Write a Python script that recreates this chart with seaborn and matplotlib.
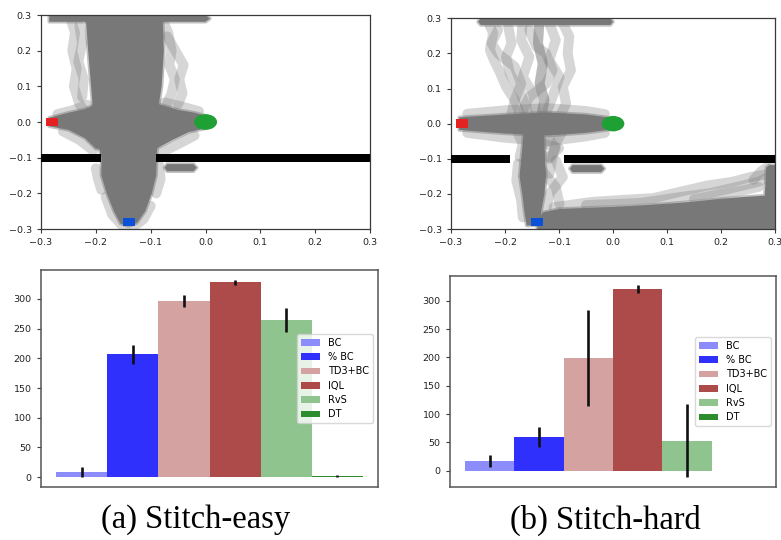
import numpy as np
import pandas as pd
import matplotlib
matplotlib.use("Agg")
import matplotlib.pyplot as plt
import seaborn as sns
from matplotlib.patches import Rectangle, Ellipse

# ---------------------------------------------------------------- bar data
METHODS = ["BC", "% BC", "TD3+BC", "IQL", "RvS", "DT"]
BAR_COLORS = ["#8c8cfb", "#3030fc", "#d4a2a1", "#ad4b4b", "#8fc48f", "#2d8c2d"]

EASY_SCORE = [9, 207, 296, 328, 264, 2]
EASY_ERR = [8, 16, 10, 4, 20, 2]
HARD_SCORE = [17, 60, 199, 320, 53, 0]
HARD_ERR = [10, 18, 84, 7, 64, 0]

CAPTIONS = ["(a) Stitch-easy", "(b) Stitch-hard"]

# ---------------------------------------------------------------- maze layout
MAZE_TICKS = [-0.3, -0.2, -0.1, 0.0, 0.1, 0.2, 0.3]
WALL_Y = -0.1
WALL_SEGMENTS = [(-0.3, -0.19), (-0.09, 0.3)]
RED_BOX = (-0.28, 0.0)
BLUE_BOX = (-0.14, -0.28)
GOAL = (0.0, 0.0)

# dense trajectory regions (x list, y list)
EASY_REGIONS = [
    ([-0.285, 0.0, 0.008, 0.0, -0.285], [0.281, 0.281, 0.29, 0.3, 0.3]),
    ([-0.218, -0.078, -0.076, -0.08, -0.086, -0.089, -0.09, -0.098, -0.11, -0.125, -0.14,
      -0.155, -0.167, -0.18, -0.19, -0.19, -0.197, -0.206, -0.214],
     [0.285, 0.285, 0.2, 0.1, 0.04, -0.1, -0.15, -0.2, -0.25, -0.283, -0.292,
      -0.285, -0.25, -0.2, -0.15, -0.1, -0.05, 0.05, 0.2]),
    ([-0.285, -0.25, -0.22, -0.2, -0.085, -0.05, -0.02, 0.0, 0.0, -0.03, -0.06, -0.09,
      -0.2, -0.22, -0.25, -0.285],
     [0.012, 0.026, 0.036, 0.05, 0.05, 0.034, 0.026, 0.018, -0.018, -0.028, -0.05, -0.075,
      -0.075, -0.045, -0.022, -0.012]),
    ([-0.07, -0.022, -0.016, -0.022, -0.07, -0.075], [-0.138, -0.138, -0.128, -0.118, -0.118, -0.128]),
]
EASY_TRAILS = [
    ([-0.245, -0.238, -0.243, -0.235, -0.24, -0.23, -0.22], [0.285, 0.25, 0.2, 0.15, 0.1, 0.05, 0.03]),
    ([-0.23, -0.225, -0.232, -0.222, -0.225], [0.27, 0.22, 0.17, 0.12, 0.07]),
    ([-0.078, -0.068, -0.062, -0.066, -0.056, -0.062, -0.07], [0.285, 0.25, 0.2, 0.16, 0.12, 0.08, 0.05]),
    ([-0.07, -0.055, -0.04, -0.048, -0.042, -0.05], [0.24, 0.2, 0.16, 0.12, 0.08, 0.05]),
    ([-0.27, -0.24, -0.215], [0.022, 0.034, 0.048]),
    ([-0.075, -0.04, -0.012], [0.055, 0.042, 0.03]),
    ([-0.26, -0.23, -0.205], [-0.026, -0.05, -0.08]),
    ([-0.08, -0.05, -0.02], [-0.085, -0.062, -0.038]),
    ([-0.085, -0.082, -0.09], [-0.12, -0.16, -0.2]),
    ([-0.2, -0.196, -0.19], [-0.13, -0.16, -0.19]),
    ([-0.182, -0.17, -0.152, -0.13, -0.113, -0.1], [-0.21, -0.26, -0.29, -0.292, -0.272, -0.235]),
]

HARD_REGIONS = [
    ([-0.245, -0.005, 0.0, -0.005, -0.245, -0.25], [0.281, 0.281, 0.29, 0.3, 0.3, 0.29]),
    ([-0.285, -0.2, -0.12, -0.05, -0.01, 0.0, -0.01, -0.05, -0.12, -0.2, -0.285],
     [0.018, 0.026, 0.032, 0.026, 0.018, 0.0, -0.018, -0.026, -0.034, -0.028, -0.018]),
    ([-0.165, -0.128, -0.126, -0.124, -0.127, -0.133, -0.136, -0.16, -0.164, -0.168, -0.173, -0.17],
     [-0.02, -0.02, -0.1, -0.15, -0.2, -0.25, -0.29, -0.29, -0.25, -0.2, -0.15, -0.1]),
    ([-0.14, -0.128, -0.1, -0.05, 0.0, 0.05, 0.1, 0.15, 0.2, 0.25, 0.281, 0.284, 0.29, 0.3, 0.3, -0.14],
     [-0.27, -0.252, -0.243, -0.24, -0.237, -0.233, -0.228, -0.222, -0.214, -0.208, -0.205,
      -0.125, -0.118, -0.118, -0.3, -0.3]),
    ([-0.075, -0.022, -0.016, -0.022, -0.075, -0.08], [-0.138, -0.138, -0.128, -0.118, -0.118, -0.128]),
]
HARD_TRAILS = [
    ([-0.231, -0.222, -0.228, -0.222, -0.21, -0.198, -0.182, -0.173],
     [0.29, 0.257, 0.21, 0.186, 0.148, 0.105, 0.067, 0.029]),
    ([-0.194, -0.188, -0.198, -0.191, -0.173, -0.161, -0.155],
     [0.276, 0.229, 0.19, 0.143, 0.095, 0.048, 0.019]),
    ([-0.167, -0.17, -0.155, -0.167, -0.148, -0.142], [0.295, 0.238, 0.19, 0.133, 0.086, 0.029]),
    ([-0.136, -0.139, -0.13, -0.136, -0.127, -0.133], [0.295, 0.229, 0.171, 0.114, 0.067, 0.019]),
    ([-0.136, -0.139, -0.13, -0.136, -0.127, -0.133], [0.295, 0.229, 0.171, 0.114, 0.067, 0.019]),
    ([-0.118, -0.106, -0.118, -0.099, -0.112, -0.124], [0.286, 0.238, 0.181, 0.133, 0.076, 0.029]),
    ([-0.093, -0.081, -0.084, -0.078, -0.093, -0.087, -0.099],
     [0.286, 0.248, 0.2, 0.152, 0.105, 0.057, 0.019]),
    ([-0.155, -0.142, -0.124, -0.112, -0.124, -0.155, -0.167],
     [0.267, 0.219, 0.2, 0.152, 0.114, 0.076, 0.038]),
    ([-0.213, -0.225, -0.213, -0.182, -0.17, -0.182, -0.188],
     [0.267, 0.229, 0.2, 0.162, 0.114, 0.067, 0.029]),
    ([-0.27, -0.2, -0.12, -0.05, -0.015], [0.028, 0.038, 0.044, 0.036, 0.027]),
    ([-0.27, -0.2, -0.12, -0.05, -0.015], [-0.026, -0.04, -0.05, -0.036, -0.026]),
    ([-0.179, -0.167, -0.173], [-0.019, -0.057, -0.095]),
    ([-0.093, -0.106, -0.112, -0.118], [-0.019, -0.057, -0.095, -0.143]),
    ([-0.124, -0.106, -0.118, -0.136, -0.13], [-0.03, -0.07, -0.1, -0.09, -0.06]),
    ([-0.155, -0.142, -0.1, -0.118, -0.15], [-0.02, -0.05, -0.07, -0.095, -0.08]),
    ([-0.106, -0.093, -0.118, -0.124], [-0.105, -0.152, -0.2, -0.248]),
    ([-0.136, -0.106, -0.099], [-0.124, -0.181, -0.229]),
    ([-0.176, -0.179, -0.17, -0.167], [-0.114, -0.162, -0.219, -0.267]),
    ([-0.11, -0.04, 0.01, 0.075, 0.13, 0.175, 0.22, 0.255, 0.282],
     [-0.238, -0.223, -0.218, -0.212, -0.192, -0.176, -0.166, -0.152, -0.145]),
    ([-0.05, 0.05, 0.12, 0.18, 0.23, 0.27, 0.285],
     [-0.232, -0.226, -0.21, -0.198, -0.18, -0.165, -0.155]),
    ([0.15, 0.2, 0.24, 0.27], [-0.215, -0.2, -0.19, -0.18]),
    ([0.26, 0.275, 0.285], [-0.16, -0.135, -0.125]),
]

CORE_GRAY = "#787878"

plt.rcParams.update({
    "font.family": ["DejaVu Sans"],
    "axes.edgecolor": "#3a3a3a",
    "axes.linewidth": 0.9,
    "xtick.color": "#3a3a3a",
    "ytick.color": "#3a3a3a",
    "xtick.labelcolor": "#222222",
    "ytick.labelcolor": "#222222",
    "xtick.labelsize": 6.8,
    "ytick.labelsize": 6.8,
    "xtick.major.size": 3.2,
    "ytick.major.size": 3.2,
})

fig = plt.figure(figsize=(7.81, 5.40), dpi=100)
ax_te = fig.add_axes([0.0525, 0.5759, 0.4213, 0.3963])
ax_th = fig.add_axes([0.5775, 0.5759, 0.4148, 0.3902])
ax_be = fig.add_axes([0.0525, 0.0981, 0.4315, 0.4019])
ax_bh = fig.add_axes([0.5762, 0.0981, 0.4174, 0.3907])


def draw_maze(ax, regions, trails):
    for xs, ys in trails:
        ax.plot(xs, ys, color=CORE_GRAY, alpha=0.3, lw=7.2,
                solid_capstyle="round", solid_joinstyle="round", zorder=1)
    for xs, ys in regions:
        ax.fill(xs, ys, facecolor=CORE_GRAY, edgecolor=(0.47, 0.47, 0.47, 0.45),
                lw=2.5, joinstyle="round", zorder=2)
    for x0, x1 in WALL_SEGMENTS:
        ax.add_patch(Rectangle((x0, WALL_Y - 0.011), x1 - x0, 0.022,
                               facecolor="black", edgecolor="none", zorder=3))
    ax.add_patch(Rectangle((RED_BOX[0] - 0.011, RED_BOX[1] - 0.0125), 0.022, 0.025,
                           facecolor="#e42222", edgecolor="none", zorder=4))
    ax.add_patch(Rectangle((BLUE_BOX[0] - 0.011, BLUE_BOX[1] - 0.011), 0.022, 0.022,
                           facecolor="#0a50d8", edgecolor="none", zorder=4))
    ax.add_patch(Ellipse(GOAL, 0.042, 0.044, facecolor="#1fa035",
                         edgecolor="none", zorder=4))
    ax.set_xlim(-0.3, 0.3)
    ax.set_ylim(-0.3, 0.3)
    ax.set_xticks(MAZE_TICKS)
    ax.set_yticks(MAZE_TICKS)


draw_maze(ax_te, EASY_REGIONS, EASY_TRAILS)
draw_maze(ax_th, HARD_REGIONS, HARD_TRAILS)


def draw_bars(ax, scores, errs, ylim):
    df = pd.DataFrame({"method": METHODS, "score": scores})
    sns.barplot(data=df, x="method", y="score", hue="method",
                palette=dict(zip(METHODS, BAR_COLORS)), width=1.0, saturation=1,
                errorbar=None, legend=True, ax=ax)
    ax.errorbar(np.arange(len(METHODS)), scores, yerr=errs, fmt="none",
                ecolor="#111111", elinewidth=1.9, capsize=0, zorder=5)
    ax.set_xlim(-0.8, len(METHODS) - 0.2)
    ax.set_ylim(*ylim)
    ax.set_xticks([])
    ax.set_yticks([0, 50, 100, 150, 200, 250, 300])
    ax.set_xlabel("")
    ax.set_ylabel("")
    for sp in ax.spines.values():
        sp.set_color("#555555")
        sp.set_linewidth(1.1)
    ax.legend(loc="center right", fontsize=7, handlelength=2.0, handleheight=0.7,
              labelspacing=0.45, borderpad=0.4, framealpha=0.8, edgecolor="#d0d0d0",
              fancybox=True)


draw_bars(ax_be, EASY_SCORE, EASY_ERR, (-16.6, 348.6))
draw_bars(ax_bh, HARD_SCORE, HARD_ERR, (-28.7, 343.5))

for xc, text in zip([0.251, 0.775], CAPTIONS):
    fig.text(xc, 0.037, text, ha="center", va="center",
             family=["Liberation Serif", "DejaVu Serif"], fontsize=23.5, color="black")

fig.savefig("out.png", dpi=100)
